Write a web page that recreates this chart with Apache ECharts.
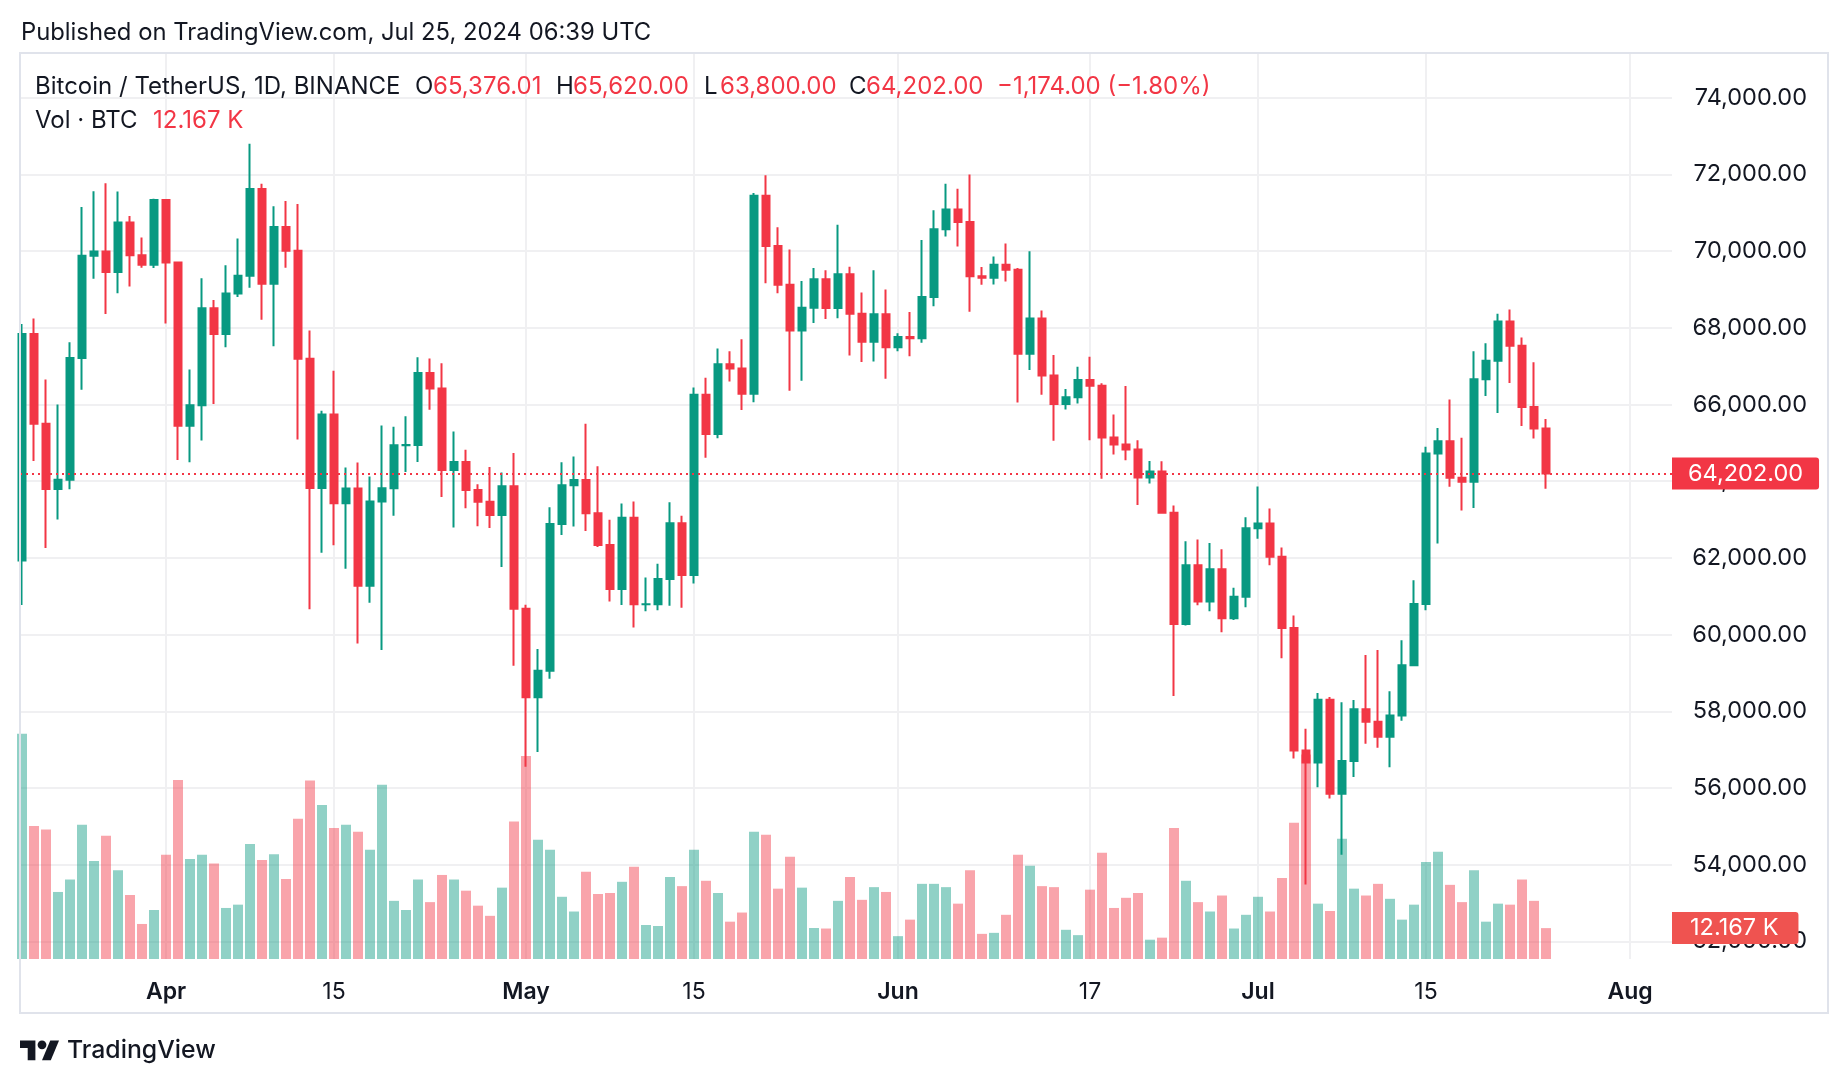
<!DOCTYPE html>
<html><head><meta charset="utf-8">
<script src="https://cdn.jsdelivr.net/npm/echarts@6/dist/echarts.min.js"></script>
<style>html,body{margin:0;padding:0;background:#fff}#c{width:1848px;height:1086px}</style>
</head><body><div id="c"></div>
<script>
const dates = [
'2024-03-20','2024-03-21','2024-03-22','2024-03-23','2024-03-24','2024-03-25','2024-03-26','2024-03-27','2024-03-28','2024-03-29','2024-03-30','2024-03-31',
'2024-04-01','2024-04-02','2024-04-03','2024-04-04','2024-04-05','2024-04-06','2024-04-07','2024-04-08','2024-04-09','2024-04-10','2024-04-11','2024-04-12','2024-04-13','2024-04-14','2024-04-15','2024-04-16','2024-04-17','2024-04-18','2024-04-19','2024-04-20','2024-04-21','2024-04-22','2024-04-23','2024-04-24','2024-04-25','2024-04-26','2024-04-27','2024-04-28','2024-04-29','2024-04-30',
'2024-05-01','2024-05-02','2024-05-03','2024-05-04','2024-05-05','2024-05-06','2024-05-07','2024-05-08','2024-05-09','2024-05-10','2024-05-11','2024-05-12','2024-05-13','2024-05-14','2024-05-15','2024-05-16','2024-05-17','2024-05-18','2024-05-19','2024-05-20','2024-05-21','2024-05-22','2024-05-23','2024-05-24','2024-05-25','2024-05-26','2024-05-27','2024-05-28','2024-05-29','2024-05-30','2024-05-31',
'2024-06-01','2024-06-02','2024-06-03','2024-06-04','2024-06-05','2024-06-06','2024-06-07','2024-06-08','2024-06-09','2024-06-10','2024-06-11','2024-06-12','2024-06-13','2024-06-14','2024-06-15','2024-06-16','2024-06-17','2024-06-18','2024-06-19','2024-06-20','2024-06-21','2024-06-22','2024-06-23','2024-06-24','2024-06-25','2024-06-26','2024-06-27','2024-06-28','2024-06-29','2024-06-30',
'2024-07-01','2024-07-02','2024-07-03','2024-07-04','2024-07-05','2024-07-06','2024-07-07','2024-07-08','2024-07-09','2024-07-10','2024-07-11','2024-07-12','2024-07-13','2024-07-14','2024-07-15','2024-07-16','2024-07-17','2024-07-18','2024-07-19','2024-07-20','2024-07-21','2024-07-22','2024-07-23','2024-07-24','2024-07-25'
];
const open = [
61930,67840,65501,63796,64037,67211,69880,69988,69455,70744,69892,69645,
71333,69702,65446,65980,68508,67837,68896,69360,71620,69146,70631,70007,67195,63821,65739,63426,63811,61277,63470,63818,64940,64941,66819,66414,64289,64498,63770,63461,63118,63866,
60672,58364,59060,62882,63892,64031,63162,62334,61187,63049,60792,60793,61448,62901,61553,66255,65231,67051,66940,66278,71446,70136,69122,67929,68526,69265,68518,69394,68366,67635,68354,
67491,67760,67730,68805,70567,71083,70757,69342,69306,69647,69512,67321,68243,66756,66011,66191,66639,66490,65140,64960,64828,64096,64252,63180,60277,61806,60864,61706,60427,60986,
62772,62900,62029,60173,56977,56662,58303,55849,56705,58051,57725,57339,57889,59204,60797,64724,65043,64087,63987,66660,67139,68165,67532,65936,65376.01
];
const high = [
68100,68240,66650,65999,67624,71150,71561,71769,71552,70913,70355,71366,
71342,69708,66914,69291,68725,69629,70327,72797,71758,71172,71305,71227,67931,65840,66878,64355,64486,64125,65450,65419,65695,67233,67199,67075,65297,64820,63923,64370,64228,64734,
60780,59625,63320,64494,64646,65500,64390,62995,63421,63469,61490,61850,63450,63100,66445,66700,67459,67387,67700,71515,71979,70625,70041,69220,69562,69500,70687,69591,68920,69500,69000,
67857,68409,70288,71063,71758,71625,71997,69583,69858,70195,69562,69999,68449,67294,66402,66983,67244,66556,65738,66482,65066,64525,64523,63369,62435,62480,62389,62225,61224,63058,
63861,63288,62272,60498,57546,58475,58373,58236,58296,59470,59600,58526,59850,61420,64900,65388,66128,65133,67386,67598,68366,68474,67750,67102,65620
];
const low = [
60775,64529,62260,63000,63790,66385,69280,68360,68903,69076,69564,69562,
68110,64550,64493,65064,66011,67491,68800,69043,68210,67518,69567,65086,60660,62134,62332,61716,59768,60833,59600,63100,64237,64500,65864,63590,62794,63297,62824,62781,61765,59191,
56552,56937,58848,62599,62822,62700,62285,60866,60769,60187,60610,60632,60750,60700,61330,64613,65120,66601,65858,66060,69162,68900,66356,66622,68128,68232,68250,67277,67105,67118,66670,
67387,67257,67612,68565,70383,70119,68420,69125,69131,69210,66051,66900,66251,65056,65871,66023,65070,64066,64693,64547,63379,63943,63179,58402,60239,60765,60606,60063,60383,60712,
62497,61806,59386,56772,53485,56018,55724,54260,56289,57157,57050,56542,57756,59204,60632,62373,63854,63238,63300,66222,65777,66559,65442,65111,63800
];
const close = [
67840,65501,63796,64037,67211,69880,69988,69455,70744,69892,69645,71333,
69702,65446,65980,68508,67837,68896,69360,71620,69146,70631,70007,67195,63821,65739,63426,63811,61277,63470,63818,64940,64941,66819,66414,64289,64498,63770,63461,63118,63866,60672,
58364,59060,62882,63892,64031,63162,62334,61187,63049,60792,60793,61448,62901,61553,66255,65231,67051,66940,66278,71446,70136,69122,67929,68526,69265,68518,69394,68366,67635,68354,67491,
67760,67730,68805,70567,71083,70757,69342,69306,69647,69512,67321,68243,66756,66011,66191,66639,66490,65140,64960,64828,64096,64252,63180,60277,61806,60864,61706,60427,60986,62772,
62900,62029,60173,56977,56662,58303,55849,56705,58051,57725,57339,57889,59204,60797,64724,65043,64087,63987,66660,67139,68165,67532,65936,65376,64202
];
// volume in thousands of BTC
const volume = [
88.7,52.4,51.0,26.4,31.3,52.9,38.6,48.5,35.0,25.2,13.8,19.3,
41.1,70.5,39.4,41.1,37.6,20.1,21.4,45.3,39.0,41.3,31.5,55.2,70.3,60.6,51.6,52.9,50.1,43.0,68.6,22.9,19.3,31.3,22.4,33.1,31.3,26.9,21.0,17.0,28.1,54.1,
79.9,47.0,43.0,24.5,18.7,34.4,25.6,26.0,30.4,36.3,13.4,13.0,32.3,28.7,43.0,30.8,26.0,14.7,18.3,50.1,48.9,27.7,40.3,28.1,12.2,12.0,22.9,32.3,23.3,28.3,26.4,
9.0,15.5,29.6,29.6,28.3,21.8,35.0,9.9,10.3,17.4,41.1,36.7,28.7,28.3,11.5,9.4,27.3,41.8,20.1,24.1,26.0,7.6,8.4,51.6,30.8,22.4,18.7,25.0,12.0,17.4,
24.5,18.7,31.9,53.7,80.5,21.8,18.9,47.4,27.7,25.0,29.6,23.7,15.5,21.4,38.2,42.2,29.2,22.4,35.0,14.7,21.8,21.4,31.3,22.9,12.167
];
const tickDates = ['2024-04-01','2024-04-15','2024-05-01','2024-05-15','2024-06-01','2024-06-17','2024-07-01','2024-07-15','2024-08-01'];
const tickLabels = ['Apr','15','May','15','Jun','17','Jul','15','Aug'];

const UP = '#089981', DOWN = '#F23645';
const UPV = 'rgba(8,153,129,0.45)', DOWNV = 'rgba(242,54,69,0.45)';
const FONT = 'Inter, Roboto, sans-serif';
const TXT = '#131722';
const day0 = Date.parse(dates[0]);
const dayIdx = d => Math.round((Date.parse(d) - day0) / 86400000);
const tickIdx = tickDates.map(dayIdx);
const fmt2 = v => Number(v).toLocaleString('en-US', {minimumFractionDigits: 2, maximumFractionDigits: 2});

const candleData = dates.map((d, i) => [i, open[i], close[i], low[i], high[i]]);
const volData = dates.map((d, i) => ({value: [i, volume[i]], itemStyle: {color: close[i] >= open[i] ? UPV : DOWNV}}));
const last = dates.length - 1;
const chg = close[last] - close[last - 1];
const chgTxt = (chg < 0 ? '\u2212' : '+') + fmt2(Math.abs(chg)) + ' (' + (chg < 0 ? '\u2212' : '+') + (Math.abs(chg) / close[last - 1] * 100).toFixed(2) + '%)';

const xMin = -0.1667, xMax = 137.5;
const LF = '24px ' + FONT;
const T = (x, y, text, fill, font) => ({type: 'text', x, y, z: 100, style: {text, fill, font: font || LF, verticalAlign: 'middle'}});
const chart = echarts.init(document.getElementById('c'), null, {renderer: 'canvas'});
chart.setOption({
  animation: false,
  backgroundColor: '#ffffff',
  textStyle: {fontFamily: FONT},
  grid: [
    {left: 20, right: 176, top: 97.7, height: 843.7},
    {left: 20, right: 176, top: 54, height: 905}
  ],
  xAxis: [
    {type: 'value', gridIndex: 0, min: xMin, max: xMax, show: false, splitLine: {show: false}},
    {type: 'value', gridIndex: 1, min: xMin, max: xMax,
      axisLine: {show: false}, axisTick: {show: false, customValues: tickIdx},
      splitLine: {show: true, lineStyle: {color: '#f0f0f2', width: 2}},
      axisLabel: {customValues: tickIdx, margin: 22, fontFamily: FONT, color: TXT, fontSize: 23,
        formatter: v => { const k = tickIdx.indexOf(Math.round(v)); const t = tickLabels[k] || ''; return /^\d+$/.test(t) ? '{n|' + t + '}' : '{b|' + t + '}'; },
        rich: {b: {fontWeight: 600, fontSize: 23, color: TXT, fontFamily: FONT}, n: {fontSize: 23, color: TXT, fontFamily: FONT}}}
    }
  ],
  yAxis: [
    {type: 'value', gridIndex: 0, position: 'right', min: 52000, max: 74000, interval: 2000,
      axisLine: {show: false}, axisTick: {show: false},
      splitLine: {show: true, lineStyle: {color: '#f0f0f2', width: 2}},
      axisLabel: {margin: 135, align: 'right', fontSize: 23.5, color: TXT, fontFamily: FONT, formatter: v => fmt2(v)}
    },
    {type: 'value', gridIndex: 1, min: 0, max: 356.4, show: false, splitLine: {show: false}}
  ],
  series: [
    {type: 'bar', xAxisIndex: 1, yAxisIndex: 1, data: volData, barWidth: 10, z: 1, silent: true,
      markLine: {silent: true, symbol: ['none', 'none'], z: 6, lineStyle: {color: 'rgba(0,0,0,0)', width: 1, type: 'solid'},
        label: {show: true, position: 'end', distance: 0, formatter: () => volume[last].toFixed(3) + ' K', color: '#fff', fontSize: 23.5, fontFamily: FONT,
          backgroundColor: '#ef5350', padding: [3, 20, 3, 18], lineHeight: 26, borderRadius: [0, 3, 3, 0]},
        data: [{yAxis: volume[last]}]}
    },
    {type: 'candlestick', xAxisIndex: 0, yAxisIndex: 0, data: candleData, encode: {x: 0, y: [1, 2, 3, 4]},
      barWidth: 8, z: 3, silent: true,
      itemStyle: {color: UP, color0: DOWN, borderColor: UP, borderColor0: DOWN, borderWidth: 2},
      markLine: {silent: true, symbol: ['none', 'none'], z: 5,
        lineStyle: {color: DOWN, type: [2, 4], width: 2},
        label: {position: 'end', distance: 0, formatter: () => fmt2(close[last]), color: '#fff', fontSize: 23.5, fontFamily: FONT,
          backgroundColor: DOWN, padding: [3, 16, 3, 16], lineHeight: 26, borderRadius: [0, 3, 3, 0]},
        data: [{yAxis: close[last]}]}
    }
  ],
  graphic: [
    {type: 'rect', shape: {x: 20, y: 53, width: 1808, height: 960}, style: {fill: 'none', stroke: '#e0e3eb', lineWidth: 2}, silent: true, z: 10},
    T(21, 33, 'Published on TradingView.com, Jul 25, 2024 06:39 UTC', TXT, '23.8px ' + FONT),
    T(35, 87, 'Bitcoin / TetherUS, 1D, BINANCE', TXT),
    T(415, 87, 'O', TXT), T(433, 87, fmt2(open[last]), DOWN),
    T(556, 87, 'H', TXT), T(573, 87, fmt2(high[last]), DOWN),
    T(704, 87, 'L', TXT), T(720, 87, fmt2(low[last]), DOWN),
    T(849, 87, 'C', TXT), T(866, 87, fmt2(close[last]), DOWN),
    T(997, 87, chgTxt, DOWN),
    T(35, 121, 'Vol \u00b7 BTC', TXT),
    T(153, 121, volume[last].toFixed(3) + ' K', DOWN),
    {type: 'group', x: 20, y: 1036, scaleX: 1.1, scaleY: 1.1, children: [
      {type: 'polygon', shape: {points: [[14, 22], [7, 22], [7, 11], [0, 11], [0, 4], [14, 4]]}, style: {fill: TXT}},
      {type: 'polygon', shape: {points: [[28, 22], [20, 22], [27.5, 4], [35.5, 4]]}, style: {fill: TXT}},
      {type: 'circle', shape: {cx: 20, cy: 8, r: 4}, style: {fill: TXT}}
    ]},
    T(67, 1051, 'TradingView', TXT, '500 24.8px ' + FONT)
  ]
});
</script>
</body></html>
